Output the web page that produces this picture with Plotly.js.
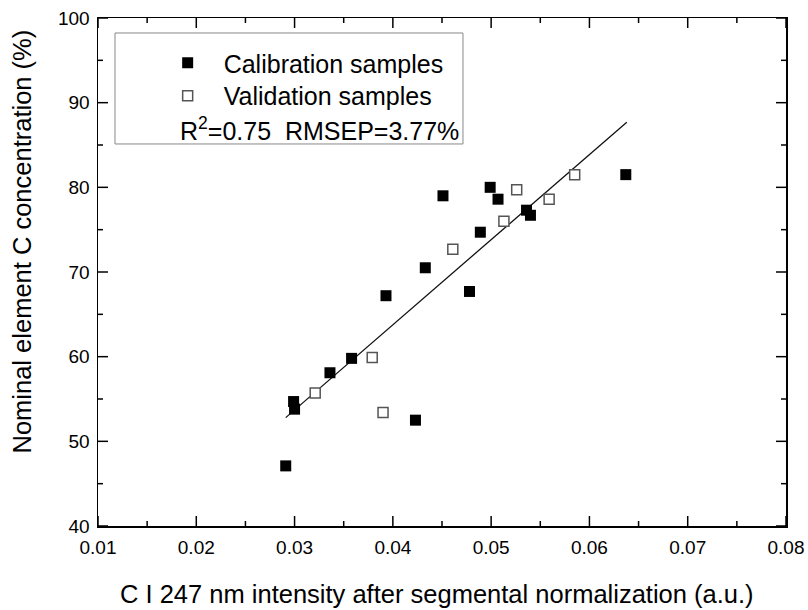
<!DOCTYPE html>
<html>
<head>
<meta charset="utf-8">
<script src="https://cdn.plot.ly/plotly-3.0.1.min.js"></script>
<style>html,body{margin:0;padding:0;background:#fff;}#chart{width:808px;height:610px;}</style>
</head>
<body>
<div id="chart"></div>
<script>
// Calibration samples (filled squares)
var calX = [0.0291, 0.0299, 0.0300, 0.0336, 0.0358, 0.0393, 0.0423, 0.0433, 0.0451, 0.0478, 0.0489, 0.0499, 0.0507, 0.0536, 0.0540, 0.0637];
var calY = [47.1, 54.7, 53.8, 58.1, 59.8, 67.2, 52.5, 70.5, 79.0, 67.7, 74.7, 80.0, 78.6, 77.3, 76.7, 81.5];
// Validation samples (open squares)
var valX = [0.0321, 0.0379, 0.0390, 0.0461, 0.0513, 0.0526, 0.0559, 0.0585];
var valY = [55.7, 59.9, 53.4, 72.7, 76.0, 79.7, 78.6, 81.5];
// Fitted line endpoints
var fitX = [0.0291, 0.0638];
var fitY = [52.8, 87.7];
// Tick positions
var xMajor = [0.01, 0.02, 0.03, 0.04, 0.05, 0.06, 0.07, 0.08];
var xMinor = [0.015, 0.025, 0.035, 0.045, 0.055, 0.065, 0.075];
var yMajor = [40, 50, 60, 70, 80, 90, 100];
var yMinor = [45, 55, 65, 75, 85, 95];

var FONT = 'Liberation Sans, Arial, sans-serif';

var traces = [
  {x: fitX, y: fitY, mode: 'lines', line: {color: '#111', width: 1.3}, showlegend: false, hoverinfo: 'skip'},
  {x: calX, y: calY, mode: 'markers', name: 'Calibration samples', legend: 'legend',
   marker: {symbol: 'square', size: 11, color: '#000', line: {width: 0}}},
  {x: valX, y: valY, mode: 'markers', name: 'Validation samples', legend: 'legend2',
   marker: {symbol: 'square', size: 10, color: '#fff', line: {width: 1.5, color: '#555'}}}
];

var legendCommon = {
  xanchor: 'left', yanchor: 'middle',
  bgcolor: 'rgba(0,0,0,0)', borderwidth: 0, itemwidth: 62,
  font: {family: FONT, size: 25, color: '#000'}
};
function legendAt(x, y) {
  var l = {x: x, y: y};
  for (var k in legendCommon) l[k] = legendCommon[k];
  return l;
}

// Inward tick marks on all four sides, placed through the axes' own scales
var PW = 688, PH = 508, MAJ = 10, MIN = 5;
var tickLine = {color: '#000', width: 1.5};
var shapes = [];
function xTick(v, len) {
  shapes.push({type: 'line', layer: 'above', xref: 'x', yref: 'paper', x0: v, x1: v, y0: 0, y1: len / PH, line: tickLine});
  shapes.push({type: 'line', layer: 'above', xref: 'x', yref: 'paper', x0: v, x1: v, y0: 1, y1: 1 - len / PH, line: tickLine});
}
function yTick(v, len) {
  shapes.push({type: 'line', layer: 'above', xref: 'paper', yref: 'y', y0: v, y1: v, x0: 0, x1: len / PW, line: tickLine});
  shapes.push({type: 'line', layer: 'above', xref: 'paper', yref: 'y', y0: v, y1: v, x0: 1, x1: 1 - len / PW, line: tickLine});
}
xMajor.forEach(function (v) { xTick(v, MAJ); });
xMinor.forEach(function (v) { xTick(v, MIN); });
yMajor.forEach(function (v) { yTick(v, MAJ); });
yMinor.forEach(function (v) { yTick(v, MIN); });
shapes.push({type: 'rect', xref: 'paper', yref: 'paper', x0: 0.0247, x1: 0.5305, y0: 0.752, y1: 0.9705,
  line: {color: '#888', width: 1}, fillcolor: 'rgba(0,0,0,0)'});

var layout = {
  width: 808, height: 610,
  margin: {l: 98, r: 22, t: 18, b: 84},
  paper_bgcolor: '#fff', plot_bgcolor: '#fff',
  font: {family: FONT, color: '#000'},
  xaxis: {
    range: [0.01, 0.08], tickmode: 'array', tickvals: xMajor, tickformat: '.2f',
    showgrid: false, zeroline: false, showline: true, linecolor: '#000', linewidth: 1.5,
    mirror: true, ticks: '', ticklabelstandoff: 4,
    tickfont: {family: FONT, size: 19, color: '#000'}
  },
  yaxis: {
    range: [40, 100], tickmode: 'array', tickvals: yMajor,
    showgrid: false, zeroline: false, showline: true, linecolor: '#000', linewidth: 1.5,
    mirror: true, ticks: '', ticklabelstandoff: 3,
    tickfont: {family: FONT, size: 19, color: '#000'}
  },
  showlegend: true,
  legend: legendAt(0.078, 0.9114),
  legend2: legendAt(0.078, 0.8465),
  shapes: shapes,
  annotations: [
    {xref: 'paper', yref: 'paper', x: 0.1163, y: 0.781, xanchor: 'left', yanchor: 'middle', showarrow: false,
     text: 'R<sup>2</sup>=0.75\u00a0\u00a0RMSEP=3.77%', font: {family: FONT, size: 25, color: '#000'}},
    {xref: 'paper', yref: 'paper', x: -0.1105, y: 0.560, xanchor: 'center', yanchor: 'middle', showarrow: false,
     textangle: -90, text: 'Nominal element C concentration (%)', font: {family: FONT, size: 25.5, color: '#000'}},
    {xref: 'paper', yref: 'paper', x: 0.4927, y: -0.1339, xanchor: 'center', yanchor: 'middle', showarrow: false,
     text: 'C I 247 nm intensity after segmental normalization (a.u.)', font: {family: FONT, size: 25.5, color: '#000'}}
  ]
};

Plotly.newPlot('chart', traces, layout, {displayModeBar: false, staticPlot: true});
</script>
</body>
</html>
